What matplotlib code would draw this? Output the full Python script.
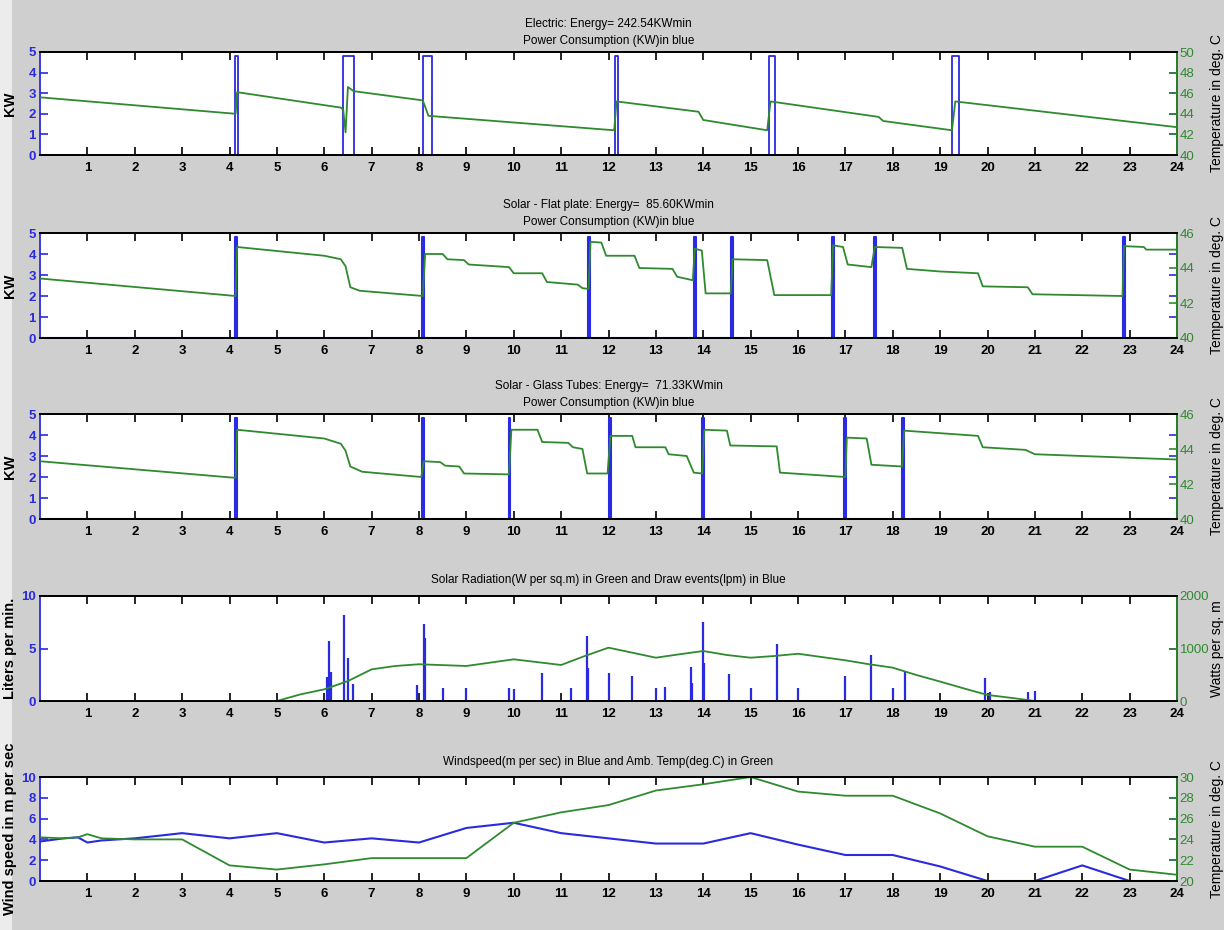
#- Hot water heater comparison: power, tank temperature, radiation, weather
import numpy as np
import matplotlib.pyplot as plt
from matplotlib.patches import Rectangle

plt.rcParams['font.family'] = ['Liberation Sans', 'DejaVu Sans']

BLUE = '#2a2ae0'
GREEN = '#2f8a2f'
BG = '#cfcfcf'

#- Data (hours of day)
hours = list(range(1, 25))
kw_on = 4.8

# Electric heater: element on/off times and tank temperature
elec_on = [4.12, 6.39, 8.09, 12.13, 15.38, 19.26]
elec_off = [4.17, 6.63, 8.27, 12.20, 15.51, 19.40]
elec_t = [0, 4.13, 4.16, 6.35, 6.40, 6.45, 6.50, 6.62, 8.08, 8.20, 12.12, 12.17,
          13.90, 14.00, 15.35, 15.42, 17.70, 17.80, 19.25, 19.32, 24]
elec_temp = [45.6, 44.0, 46.1, 44.6, 44.4, 42.2, 46.6, 46.2, 45.3, 43.8, 42.4, 45.2,
             44.2, 43.4, 42.4, 45.2, 43.7, 43.3, 42.4, 45.2, 42.7]

# Solar flat plate
flat_on = [4.11, 8.07, 11.57, 13.80, 14.58, 16.71, 17.61, 22.86]
flat_off = [4.15, 8.11, 11.61, 13.84, 14.62, 16.75, 17.65, 22.90]
flat_t = [0, 4.13, 4.16, 6.0, 6.35, 6.45, 6.55, 6.75, 8.08, 8.13, 8.5, 8.6, 8.95, 9.05,
          9.9, 10.0, 10.6, 10.7, 11.35, 11.45, 11.58, 11.62, 11.85, 11.95, 12.55, 12.65,
          13.35, 13.45, 13.78, 13.82, 13.97, 14.05, 14.58, 14.62, 15.35, 15.5, 16.7, 16.74,
          16.95, 17.05, 17.55, 17.62, 18.2, 18.3, 19.0, 19.8, 19.9, 20.85, 20.95, 22.85,
          22.88, 23.3, 23.35, 24]
flat_temp = [43.4, 42.4, 45.2, 44.7, 44.5, 44.1, 42.9, 42.7, 42.4, 44.8, 44.8, 44.5, 44.45, 44.2,
             44.05, 43.7, 43.7, 43.2, 43.05, 42.85, 42.8, 45.5, 45.45, 44.7, 44.7, 44.0,
             43.95, 43.5, 43.3, 45.1, 45.0, 42.55, 42.55, 44.5, 44.45, 42.45, 42.45, 45.3,
             45.2, 44.2, 44.05, 45.2, 45.15, 43.95, 43.8, 43.7, 42.95, 42.9, 42.5, 42.4,
             45.25, 45.2, 45.05, 45.05]

# Solar glass tubes
tube_on = [4.11, 8.06, 9.89, 12.02, 13.98, 16.98, 18.20]
tube_off = [4.15, 8.10, 9.93, 12.06, 14.02, 17.02, 18.24]
tube_t = [0, 4.13, 4.16, 6.0, 6.35, 6.45, 6.55, 6.8, 8.05, 8.1, 8.45, 8.55, 8.85, 8.95,
          9.9, 9.95, 10.5, 10.6, 11.15, 11.25, 11.45, 11.55, 11.98, 12.04, 12.5, 12.57,
          13.2, 13.27, 13.65, 13.8, 13.98, 14.02, 14.5, 14.57, 15.55, 15.62, 17.0, 17.03,
          17.45, 17.55, 18.2, 18.24, 19.8, 19.9, 20.8, 21.0, 24]
tube_temp = [43.3, 42.35, 45.1, 44.6, 44.3, 43.9, 43.0, 42.7, 42.4, 43.3, 43.25, 43.05, 43.0, 42.6,
             42.55, 45.1, 45.1, 44.4, 44.35, 44.1, 44.0, 42.6, 42.6, 44.75, 44.75, 44.1,
             44.1, 43.7, 43.6, 42.65, 42.6, 45.1, 45.05, 44.2, 44.15, 42.65, 42.4, 44.65,
             44.6, 43.1, 43.0, 45.05, 44.75, 44.1, 43.95, 43.7, 43.4]

# Solar radiation and draw events
rad_t = [0, 5.0, 5.5, 6.0, 6.5, 7.0, 7.5, 8.0, 9.0, 10.0, 11.0, 11.5, 12.0, 13.0, 13.5,
         14.0, 14.5, 15.0, 15.5, 16.0, 17.0, 17.5, 18.0, 18.5, 19.0, 19.5, 20.0, 20.5, 21.0, 24]
rad_w = [0, 0, 127, 222, 380, 603, 667, 700, 667, 794, 686, 857, 1016, 825, 890,
         952, 876, 825, 857, 900, 775, 700, 635, 495, 370, 240, 115, 60, 0, 0]
draw_t = [6.05, 6.10, 6.15, 6.42, 6.50, 6.60, 7.95, 8.10, 8.12, 8.50, 9.00, 9.90, 10.00,
          10.60, 11.20, 11.55, 11.57, 12.00, 12.50, 13.00, 13.20, 13.75, 13.77, 14.00, 14.02,
          14.55, 15.00, 15.55, 16.00, 17.00, 17.55, 18.00, 18.25, 19.95, 20.05, 20.85, 21.00]
draw_lpm = [2.3, 5.7, 2.8, 8.2, 4.1, 1.6, 1.5, 7.3, 6.0, 1.2, 1.2, 1.2, 1.1,
            2.7, 1.2, 6.2, 3.1, 2.7, 2.4, 1.2, 1.3, 3.2, 1.7, 7.5, 3.6,
            2.6, 1.2, 5.4, 1.2, 2.4, 4.4, 1.2, 2.9, 2.2, 0.9, 0.9, 1.0]

# Weather
wind_t = [0, 0.5, 0.8, 1.0, 1.3, 2, 3, 4, 5, 6, 7, 8, 9, 10, 11, 12, 13, 14, 15, 16,
          17, 18, 19, 20, 21, 22, 23, 24]
wind_ms = [3.8, 4.1, 4.2, 3.7, 3.9, 4.1, 4.6, 4.1, 4.6, 3.7, 4.1, 3.7, 5.1, 5.6, 4.6, 4.1,
           3.6, 3.6, 4.6, 3.5, 2.5, 2.5, 1.4, 0.0, 0.0, 1.5, 0.0, 0.0]
amb_t = [0, 0.5, 0.8, 1.0, 1.3, 2, 3, 4, 5, 6, 7, 8, 9, 10, 11, 12, 13, 14, 15, 16,
         17, 18, 19, 20, 21, 22, 23, 24]
amb_c = [24.2, 24.1, 24.2, 24.5, 24.1, 24.0, 24.0, 21.5, 21.1, 21.6, 22.2, 22.2, 22.2, 25.6,
         26.6, 27.3, 28.7, 29.3, 30.0, 28.6, 28.2, 28.2, 26.5, 24.3, 23.3, 23.3, 21.1, 20.6]


def power_steps(starts, ends, level):
    t = [0.0]
    p = [0.0]
    for s, e in zip(starts, ends):
        t += [s, s, e, e]
        p += [0, level, level, 0]
    t.append(24.0)
    p.append(0.0)
    return t, p


fig = plt.figure(figsize=(12.24, 9.30), dpi=100, facecolor=BG)
fig.patches.append(Rectangle((0, 0), 12 / 1224, 1, transform=fig.transFigure,
                             facecolor='#ececec', edgecolor='none', zorder=-1))

W, H = 1224.0, 930.0
x0, x1 = 40, 1177


def make_axes(top, bottom, ylim1, yt1, ylim2, yt2, ylab1, ylab2):
    ax = fig.add_axes([x0 / W, 1 - bottom / H, (x1 - x0) / W, (bottom - top) / H])
    ax2 = ax.twinx()
    ax.set_xlim(0, 24)
    ax.set_xticks(hours)
    ax.set_xticklabels([str(h) for h in hours])
    ax.set_ylim(*ylim1)
    ax.set_yticks(yt1)
    ax2.set_ylim(*ylim2)
    ax2.set_yticks(yt2)
    ax.tick_params(axis='x', direction='in', length=6, top=True, labelsize=9.5, pad=5,
                   width=1.2)
    ax.tick_params(axis='y', direction='in', length=6, right=True, colors=BLUE,
                   labelsize=9.5, pad=3, width=1.2)
    ax2.tick_params(axis='y', direction='in', length=6, colors=GREEN, labelsize=9.5,
                    pad=2, width=1.2)
    for lab in ax.get_xticklabels() + ax.get_yticklabels():
        lab.set_fontweight('bold')
    ax.spines['left'].set_color(BLUE)
    ax2.spines['right'].set_color(GREEN)
    ax2.spines['left'].set_visible(False)
    for a in (ax, ax2):
        for s in a.spines.values():
            s.set_linewidth(1.3)
    ax.set_ylabel(ylab1, fontsize=10.5, fontweight='bold')
    ax.yaxis.set_label_coords((17 - x0) / (x1 - x0), 0.5)
    ax2.set_ylabel(ylab2, fontsize=10)
    ax2.yaxis.set_label_coords((1210 - x0) / (x1 - x0), 0.5)
    return ax, ax2


temp_lab = 'Temperature in deg. C'

#- Electric
ax, ax2 = make_axes(52, 155, (0, 5), range(0, 6), (40, 50), range(40, 51, 2), 'KW', temp_lab)
t, p = power_steps(elec_on, elec_off, kw_on)
ax.plot(t, p, color=BLUE, lw=1.3)
ax2.plot(elec_t, elec_temp, color=GREEN, lw=1.3)
ax.set_title('Electric: Energy= 242.54KWmin\nPower Consumption (KW)in blue', fontsize=8.5,
             pad=6, linespacing=1.5)

#- Solar flat plate
ax, ax2 = make_axes(233, 338, (0, 5), range(0, 6), (40, 46), range(40, 47, 2), 'KW', temp_lab)
t, p = power_steps(flat_on, flat_off, kw_on)
ax.plot(t, p, color=BLUE, lw=1.5)
ax2.plot(flat_t, flat_temp, color=GREEN, lw=1.3)
ax.set_title('Solar - Flat plate: Energy=  85.60KWmin\nPower Consumption (KW)in blue',
             fontsize=8.5, pad=6, linespacing=1.5)

#- Solar glass tubes
ax, ax2 = make_axes(414, 519, (0, 5), range(0, 6), (40, 46), range(40, 47, 2), 'KW', temp_lab)
t, p = power_steps(tube_on, tube_off, kw_on)
ax.plot(t, p, color=BLUE, lw=1.5)
ax2.plot(tube_t, tube_temp, color=GREEN, lw=1.3)
ax.set_title('Solar - Glass Tubes: Energy=  71.33KWmin\nPower Consumption (KW)in blue',
             fontsize=8.5, pad=6, linespacing=1.5)

#- Solar radiation and draw events
ax, ax2 = make_axes(596, 701, (0, 10), [0, 5, 10], (0, 2000), [0, 1000, 2000],
                    'Liters per min.', 'Watts per sq. m')
ax.vlines(draw_t, 0, draw_lpm, color=BLUE, lw=1.6)
ax2.plot(rad_t, rad_w, color=GREEN, lw=1.3)
ax.set_title('Solar Radiation(W per sq.m) in Green and Draw events(lpm) in Blue',
             fontsize=8.5, pad=9)

#- Weather
ax, ax2 = make_axes(777, 881, (0, 10), range(0, 11, 2), (20, 30), range(20, 31, 2),
                    'Wind speed in m per sec', temp_lab)
ax.plot(wind_t, wind_ms, color=BLUE, lw=1.5)
ax2.plot(amb_t, amb_c, color=GREEN, lw=1.3)
ax.set_title('Windspeed(m per sec) in Blue and Amb. Temp(deg.C) in Green',
             fontsize=8.5, pad=9)

plt.savefig('out.png', dpi=100, facecolor=fig.get_facecolor())
